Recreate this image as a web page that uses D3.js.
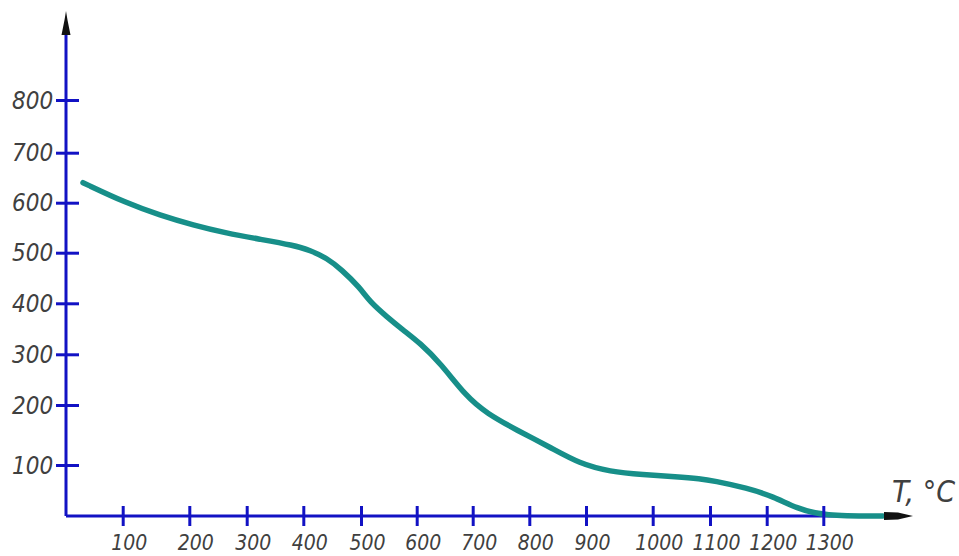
<!DOCTYPE html>
<html>
<head>
<meta charset="utf-8">
<script src="https://cdn.jsdelivr.net/npm/d3@7"></script>
<style>
  html, body { margin: 0; padding: 0; background: #ffffff; }
  svg { display: block; }
  .lbl { font-family: "Liberation Sans Narrow", "DejaVu Sans Condensed", "Liberation Sans", sans-serif; font-style: italic; font-weight: normal; fill: #404040; }
</style>
</head>
<body>
<svg id="chart" width="959" height="556"></svg>
<script>
// ---- data ----
const xTickValues = [100, 200, 300, 400, 500, 600, 700, 800, 900, 1000, 1100, 1200, 1300];
const yTickValues = [100, 200, 300, 400, 500, 600, 700, 800];
const temperature = [30, 106, 156, 207, 265, 323, 382, 412, 441, 466, 498, 516, 546, 575, 606, 642, 689, 725, 778, 836, 889, 936, 985, 1042, 1083, 1106, 1165, 1212, 1253, 1300, 1405];
const strength    = [640, 599, 575, 555, 539, 527, 515, 505, 489, 467, 431, 403, 374, 348, 322, 283, 216, 186, 158, 130, 102, 87, 81, 77, 73, 69, 55, 38, 15, 0, 0];
const axisTitleT = "T,";
const axisTitleUnit = "°C";

// ---- scales (hand-drawn axis has slightly uneven tick spacing) ----
const x = d3.scaleLinear()
  .domain([0, 100, 200, 300, 400, 500, 600, 700, 800, 900, 1000, 1100, 1200, 1300, 1400])
  .range([66, 122.7, 189.3, 246.7, 303.3, 361, 416.7, 472.7, 529.3, 586, 652.7, 710, 766.7, 823.3, 880]);
const y = d3.scaleLinear()
  .domain([0, 100, 200, 300, 400, 500, 600, 700, 800])
  .range([516, 465, 405, 354.3, 303.3, 252.7, 202.7, 152.7, 100]);

const svg = d3.select("#chart");
const blue = "#1212c4";

// axis lines
svg.append("line").attr("x1", 66).attr("x2", 66).attr("y1", 516).attr("y2", 30)
  .attr("stroke", blue).attr("stroke-width", 3);
svg.append("line").attr("x1", 66).attr("x2", 888).attr("y1", 516).attr("y2", 516)
  .attr("stroke", blue).attr("stroke-width", 3);

// curve
const line = d3.line()
  .x((d, i) => x(temperature[i]))
  .y((d, i) => y(strength[i]))
  .curve(d3.curveBasis);
svg.append("path").datum(strength)
  .attr("d", line)
  .attr("fill", "none")
  .attr("stroke", "#178f89")
  .attr("stroke-width", 5.5)
  .attr("stroke-linecap", "round")
  .attr("stroke-linejoin", "round");

// x axis ticks & labels
const xAxis = d3.axisBottom(x).tickValues(xTickValues).tickSize(0).tickFormat(d3.format("d"));
const gx = svg.append("g").attr("transform", "translate(0,516)").call(xAxis);
gx.select(".domain").remove();
gx.selectAll(".tick line").attr("y1", -10).attr("y2", 10).attr("stroke", blue).attr("stroke-width", 3);
gx.selectAll(".tick text").attr("class", "lbl").attr("font-size", 21)
  .attr("dy", null).attr("y", 34).attr("x", 6).attr("text-anchor", "middle");

// y axis ticks & labels
const yAxis = d3.axisLeft(y).tickValues(yTickValues).tickSize(0).tickFormat(d3.format("d"));
const gy = svg.append("g").attr("transform", "translate(66,0)").call(yAxis);
gy.select(".domain").remove();
gy.selectAll(".tick line").attr("x1", -10).attr("x2", 13).attr("stroke", blue).attr("stroke-width", 3);
gy.selectAll(".tick text").attr("class", "lbl").attr("font-size", 24)
  .attr("dy", null).attr("y", 8).attr("x", -54).attr("text-anchor", "start");

// arrowheads
svg.append("path").attr("d", "M66,11 L67.5,20 L70.5,35 L61.5,35 L64.5,20 Z").attr("fill", "#111");
svg.append("path").attr("d", "M913,516 L898,512.5 L884,512 L884,520 L898,519.5 Z").attr("fill", "#111");

// axis title
svg.append("text").attr("class", "lbl")
  .attr("x", 892).attr("y", 502).attr("font-size", 31)
  .text(axisTitleT);
svg.append("text").attr("class", "lbl")
  .attr("x", 955).attr("y", 502).attr("font-size", 30).attr("text-anchor", "end")
  .text(axisTitleUnit);
</script>
</body>
</html>
